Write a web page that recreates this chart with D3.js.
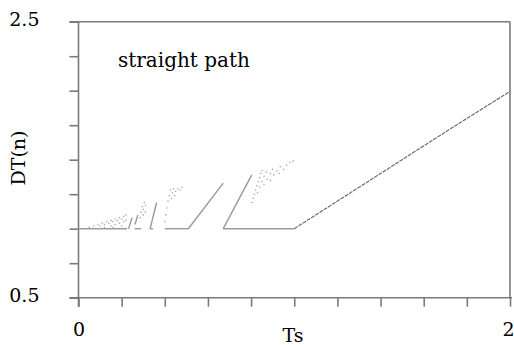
<!DOCTYPE html>
<html>
<head>
<meta charset="utf-8">
<script src="https://cdn.jsdelivr.net/npm/d3@7"></script>
<style>
  html, body { margin: 0; padding: 0; background: #fff; }
  svg { display: block; }
  text { font-family: "DejaVu Serif", serif; fill: #000; }
</style>
</head>
<body>
<div id="chart"></div>
<script>
// axis ranges and labels
const xDomain = [0, 2];
const yDomain = [0.5, 2.5];
const xTicks = [0, 0.2, 0.4, 0.6, 0.8, 1, 1.2, 1.4, 1.6, 1.8, 2];
const yTicks = [0.5, 0.75, 1, 1.25, 1.5, 1.75, 2, 2.25, 2.5];
const xTickLabels = {0: '0', 2: '2'};
const yTickLabels = {0.5: '0.5', 2.5: '2.5'};

// solid pieces of DT(n) vs Ts  [Ts, DT]
const floorSegs = [
    [[0.00, 1.00], [0.225, 1.00]],
    [[0.26, 1.00], [0.29, 1.00]],
    [[0.33, 1.00], [0.345, 1.00]],
    [[0.40, 1.00], [0.51, 1.00]],
    [[0.671, 1.00], [1.00, 1.00]]
];
const riseSegs = [
    [[0.232, 1.00], [0.248, 1.08]],
    [[0.262, 1.03], [0.275, 1.10]],
    [[0.332, 1.00], [0.362, 1.19]],
    [[0.509, 1.00], [0.671, 1.33]],
    [[0.671, 1.00], [0.803, 1.39]]
];
const tailLine = [[1.00, 1.00], [1.25, 1.25], [1.5, 1.5], [1.75, 1.75], [2.00, 1.995]];

// faint scattered samples
const dotsA = [
    [0.05, 1.01], [0.07, 1.02], [0.09, 1.03], [0.10, 1.02], [0.11, 1.04], [0.12, 1.03],
    [0.13, 1.05], [0.14, 1.04], [0.15, 1.06], [0.15, 1.02], [0.16, 1.05], [0.17, 1.07],
    [0.17, 1.03], [0.18, 1.06], [0.19, 1.08], [0.19, 1.04], [0.20, 1.07], [0.21, 1.09],
    [0.21, 1.05], [0.22, 1.10], [0.22, 1.06], [0.12, 1.01], [0.16, 1.01], [0.20, 1.02]
];
const dotsB = [
    [0.285, 1.08], [0.29, 1.12], [0.295, 1.16], [0.30, 1.14], [0.305, 1.19], [0.30, 1.10],
    [0.31, 1.17], [0.31, 1.12]
];
const dotsC = [
    [0.40, 1.05], [0.405, 1.10], [0.41, 1.15], [0.415, 1.20], [0.42, 1.24], [0.425, 1.28],
    [0.43, 1.22], [0.435, 1.26], [0.44, 1.29], [0.445, 1.24], [0.45, 1.27], [0.46, 1.29],
    [0.47, 1.28], [0.48, 1.30]
];
const dotsD = [
    [0.803, 1.19], [0.809, 1.22], [0.815, 1.25], [0.821, 1.28], [0.827, 1.31], [0.833, 1.34],
    [0.839, 1.37], [0.845, 1.40], [0.851, 1.42],
    [0.83, 1.26], [0.84, 1.30], [0.85, 1.34], [0.86, 1.38], [0.87, 1.41],
    [0.86, 1.32], [0.875, 1.36], [0.89, 1.40], [0.90, 1.43],
    [0.89, 1.35], [0.905, 1.39], [0.92, 1.42], [0.935, 1.45],
    [0.93, 1.40], [0.95, 1.43], [0.965, 1.46], [0.98, 1.48], [0.995, 1.49]
];

const W = 514, H = 345;
const margin = {top: 21.7, right: 4, bottom: 47.3, left: 78.5};

const svg = d3.select('#chart').append('svg')
.attr('width', W)
.attr('height', H);

const x = d3.scaleLinear().domain(xDomain).range([margin.left, W - margin.right]);
const y = d3.scaleLinear().domain(yDomain).range([H - margin.bottom, margin.top]);

const axisColor = '#7a7a7a';
const x0 = x(xDomain[0]), x1 = x(xDomain[1]);
const y0 = y(yDomain[0]), y1 = y(yDomain[1]);

// frame: left axis runs past the bottom, bottom/top run past the left
svg.append('line').attr('x1', x0 - 9).attr('x2', x1 + 2).attr('y1', y0).attr('y2', y0)
.attr('stroke', axisColor).attr('stroke-width', 1.6);
svg.append('line').attr('x1', x0 - 9).attr('x2', x1).attr('y1', y1).attr('y2', y1)
.attr('stroke', axisColor).attr('stroke-width', 1.6);
svg.append('line').attr('x1', x0).attr('x2', x0).attr('y1', y1).attr('y2', y0 + 9)
.attr('stroke', axisColor).attr('stroke-width', 1.6);
svg.append('line').attr('x1', x1).attr('x2', x1).attr('y1', y1).attr('y2', y0)
.attr('stroke', axisColor).attr('stroke-width', 1.6);

const xAxis = svg.append('g')
.attr('transform', `translate(0,${y0})`)
.call(d3.axisBottom(x).tickValues(xTicks).tickSizeInner(9).tickSizeOuter(0).tickPadding(16)
.tickFormat((d) => xTickLabels[d] ?? ''));
const yAxis = svg.append('g')
.attr('transform', `translate(${x0},0)`)
.call(d3.axisLeft(y).tickValues(yTicks).tickSizeInner(9).tickSizeOuter(0).tickPadding(30)
.tickFormat((d) => yTickLabels[d] ?? ''));

[xAxis, yAxis].forEach((g) => {
    g.select('.domain').remove();
    g.selectAll('.tick line').attr('stroke', axisColor).attr('stroke-width', 1.6);
    g.selectAll('.tick text').style('font-family', '"DejaVu Serif", serif').style('font-size', '19px').attr('fill', '#000');
});
xAxis.selectAll('.tick text').attr('dy', '0.71em');
// last x label sits flush with the right edge
xAxis.selectAll('.tick text').filter((d) => d === 2).attr('text-anchor', 'end').attr('x', 4);
yAxis.selectAll('.tick text').attr('dy', '0.2em');

const line = d3.line().x((d) => x(d[0])).y((d) => y(d[1]));

floorSegs.concat(riseSegs).forEach((seg) => {
    svg.append('path').datum(seg)
    .attr('d', line)
    .attr('fill', 'none')
    .attr('stroke', '#9a9a9a')
    .attr('stroke-width', 1.4);
});

svg.append('path').datum(tailLine)
.attr('d', line)
.attr('fill', 'none')
.attr('stroke', '#6e6e6e')
.attr('stroke-width', 1.2)
.attr('stroke-dasharray', '4,1');

[dotsA, dotsB, dotsC, dotsD].forEach((set) => {
    svg.append('g').selectAll('circle')
    .data(set)
    .enter()
    .append('circle')
    .attr('cx', (d) => x(d[0]))
    .attr('cy', (d) => y(d[1]))
    .attr('r', 0.8)
    .attr('fill', '#a8a8a8');
});

svg.append('text')
.attr('x', 118)
.attr('y', 67)
.style('font-size', '20px')
.text('straight path');

svg.append('text')
.attr('x', 293)
.attr('y', 342)
.attr('text-anchor', 'middle')
.style('font-size', '19px')
.text('Ts');

svg.append('text')
.attr('transform', 'translate(25,158) rotate(-90)')
.attr('text-anchor', 'middle')
.style('font-size', '19px')
.text('DT(n)');
</script>
</body>
</html>
